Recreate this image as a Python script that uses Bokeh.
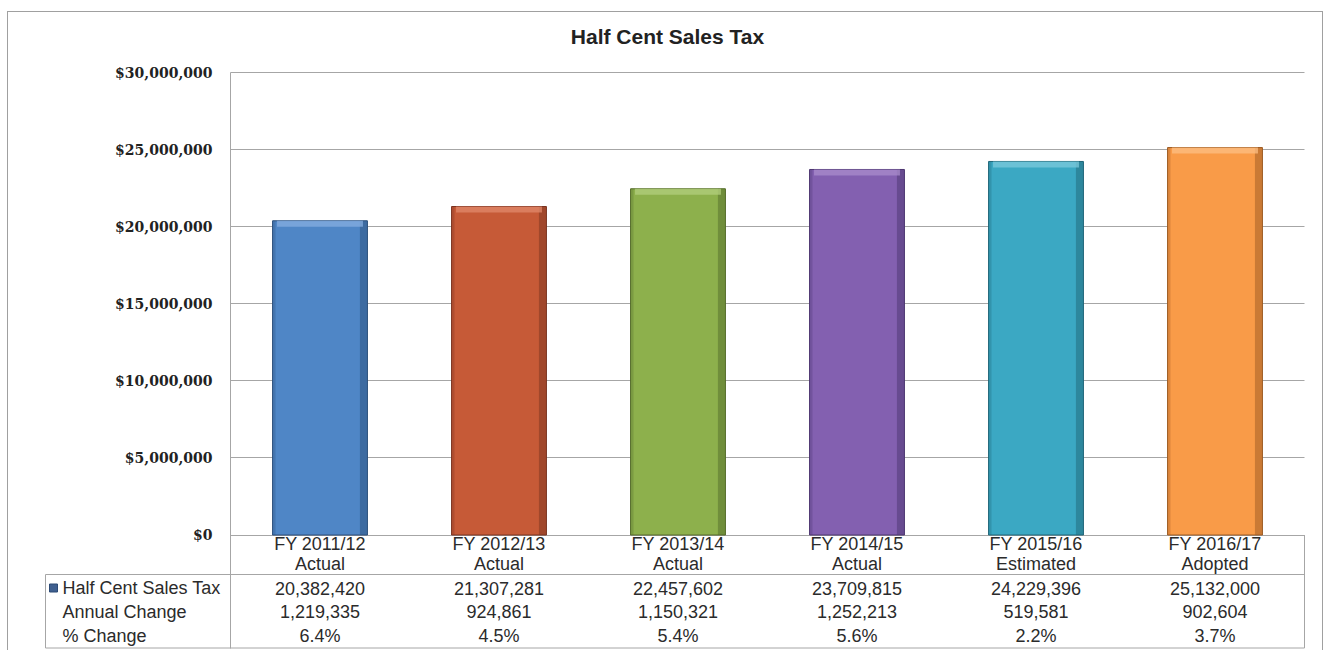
from bokeh.plotting import figure
from bokeh.models import Range1d, FixedTicker, NumeralTickFormatter, ColumnDataSource
from bokeh.layouts import column
from bokeh.core.properties import value
from bokeh.embed import file_html
from bokeh.resources import INLINE

# ---------------- data ----------------
chart_title = "Half Cent Sales Tax"
categories = ["FY 2011/12", "FY 2012/13", "FY 2013/14", "FY 2014/15", "FY 2015/16", "FY 2016/17"]
category_status = ["Actual", "Actual", "Actual", "Actual", "Estimated", "Adopted"]
sales_tax = [20382420, 21307281, 22457602, 23709815, 24229396, 25132000]
annual_change = [1219335, 924861, 1150321, 1252213, 519581, 902604]
pct_change = [6.4, 4.5, 5.4, 5.6, 2.2, 3.7]
row_labels = ["Half Cent Sales Tax", "Annual Change", "% Change"]
y_ticks = [0, 5000000, 10000000, 15000000, 20000000, 25000000, 30000000]

# ---------------- styles / layout constants ----------------
bar_colors = ["#4f86c6", "#c65a37", "#8db04c", "#8360b0", "#3ba8c3", "#f99b48"]
bar_dark = ["#2c4f7c", "#7a3320", "#546b2a", "#4c3570", "#1f6678", "#9c5a22"]
bar_light = ["#86aee0", "#e08a6c", "#b3cf7e", "#a98ccc", "#7cc9dc", "#fcbf84"]
grid_col = "#a6a6a6"
text_col = "#2b2b2b"
FONT = "Liberation Sans"

Y_MAX = y_ticks[-1]
K = 462.5 / Y_MAX               # pixels per dollar on the value axis
def below(px):                  # a position px pixels under the $0 line
    return -px / K
def above_top(px):              # a position px pixels over the top gridline
    return Y_MAX + px / K

COLW = 179.0                    # pixel width of one category column
def colx(px):                   # a position px pixels right of the first category's left edge
    return px / COLW

n = len(categories)
xpos = [i + 0.5 for i in range(n)]   # category slots on the x scale

W, H = 1314, 638

p = figure(width=W, height=H,
           x_range=Range1d(colx(-186), n + colx(1)),
           y_range=Range1d(below(114.5), above_top(60)),
           output_backend="svg", toolbar_location=None,
           min_border_left=36, min_border_right=17, min_border_top=0, min_border_bottom=1)
p.xaxis.visible = False
p.xgrid.grid_line_color = None
p.ygrid.grid_line_color = grid_col
p.ygrid.ticker = FixedTicker(ticks=y_ticks)
p.ygrid.cross_bounds = (0, n)
p.outline_line_color = None
p.background_fill_color = "white"
p.border_fill_color = "white"

ya = p.yaxis[0]
ya.fixed_location = 0
ya.bounds = (below(113), Y_MAX)
ya.ticker = FixedTicker(ticks=y_ticks)
ya.formatter = NumeralTickFormatter(format="$0,0")
ya.major_label_text_font = "DejaVu Serif"
ya.major_label_text_font_style = "bold"
ya.major_label_text_font_size = "14px"
ya.major_label_text_color = "#222222"
ya.major_tick_line_color = None
ya.minor_tick_line_color = None
ya.major_tick_out = 0
ya.major_tick_in = 0
ya.major_label_standoff = 18
ya.axis_line_color = grid_col

# chart title
p.text(x=[colx(437)], y=[above_top(36)], text=[chart_title],
       text_font=value(FONT), text_font_style="bold", text_font_size="21px",
       text_color="#222222", text_align="center", text_baseline="middle")

# ---------------- bars ----------------
bars = ColumnDataSource(dict(x=xpos, top=sales_tax, color=bar_colors,
                             dark=bar_dark, light=bar_light,
                             xr=[x + 0.243 for x in xpos], xl=[x - 0.256 for x in xpos],
                             band=[v - 6 / K for v in sales_tax]))
p.vbar(x="x", top="top", bottom=0, width=0.53, source=bars,
       fill_color="color", line_color="dark", line_width=1)
p.vbar(x="xr", top="top", bottom=0, width=0.04,
       source=bars, fill_color="dark", fill_alpha=0.5, line_color=None)
p.vbar(x="xl", top="top", bottom=0, width=0.015,
       source=bars, fill_color="dark", fill_alpha=0.3, line_color=None)
p.vbar(x="x", top="top", bottom="band", width=0.48, source=bars,
       fill_color="light", fill_alpha=0.75, line_color=None)

# ---------------- data table under the chart ----------------
txt = dict(text_font=value(FONT), text_font_size="18px", text_color=text_col,
           text_align="center", text_baseline="middle")
p.text(x=xpos, y=[below(9)] * n, text=categories, **txt)
p.text(x=xpos, y=[below(28.5)] * n, text=category_status, **txt)
p.text(x=xpos, y=[below(53)] * n, text=[f"{v:,}" for v in sales_tax], **txt)
p.text(x=xpos, y=[below(76.5)] * n, text=[f"{v:,}" for v in annual_change], **txt)
p.text(x=xpos, y=[below(100.5)] * n, text=[f"{v:.1f}%" for v in pct_change], **txt)

x_lab = colx(-185)
row_y = [below(53), below(76.5), below(100.5)]
p.text(x=[colx(-168)] * 3, y=row_y, text=row_labels,
       text_font=value(FONT), text_font_size="18px", text_color=text_col,
       text_align="left", text_baseline="middle")
p.rect(x=[colx(-177)], y=[row_y[0]], width=colx(8), height=8 / K,
       fill_color="#3f5f8f", line_color="#2c4a75")

# table rules
p.segment(x0=[x_lab, x_lab, n, x_lab], y0=[below(39.5), below(113), 0, below(39.5)],
          x1=[n, n, n, x_lab], y1=[below(39.5), below(113), below(113), below(113)],
          line_color=grid_col, line_width=1)

border = "1px solid #a0a0a0"
layout = column(p, styles={"border-left": border, "border-top": border,
                           "border-right": border, "margin-left": "7px",
                           "margin-top": "11px"})

open("out.html", "w").write(file_html(layout, INLINE))
